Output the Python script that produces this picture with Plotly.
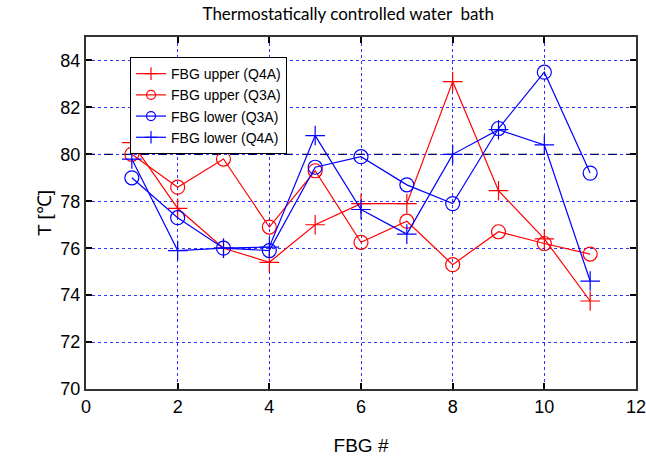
import plotly.graph_objects as go

fbg = [1, 2, 3, 4, 5, 6, 7, 8, 9, 10, 11]
upper_q4a = [80.5, 77.7, 76.0, 75.4, 77.0, 77.9, 77.9, 83.1, 78.45, 76.4, 73.75]
upper_q3a = [80.0, 78.6, 79.8, 76.9, 79.3, 76.25, 77.15, 75.3, 76.7, 76.2, 75.75]
lower_q3a = [79.0, 77.3, 76.0, 75.9, 79.45, 79.9, 78.7, 77.9, 81.1, 83.5, 79.2]
lower_q4a = [79.8, 75.9, 76.0, 76.05, 80.8, 77.65, 76.6, 80.0, 81.05, 80.4, 74.6]
ref_temp = 80.0

series = [
    ("FBG upper (Q4A)", upper_q4a, "red", "cross-thin-open"),
    ("FBG upper (Q3A)", upper_q3a, "red", "circle-open"),
    ("FBG lower (Q3A)", lower_q3a, "blue", "circle-open"),
    ("FBG lower (Q4A)", lower_q4a, "blue", "cross-thin-open"),
]

fig = go.Figure()
for name, vals, col, sym in series:
    fig.add_trace(go.Scatter(
        x=fbg, y=vals, name=name, mode="lines+markers", showlegend=False,
        line=dict(color=col, width=1.2),
        marker=dict(symbol=sym, size=14, color=col, line=dict(color=col, width=1.2)),
    ))
# legend entries with smaller symbols
for name, vals, col, sym in series:
    fig.add_trace(go.Scatter(
        x=[None], y=[None], name=name, mode="lines+markers",
        line=dict(color=col, width=1.2),
        marker=dict(symbol=sym, size=9, color=col, line=dict(color=col, width=1.2)),
    ))

fig.add_shape(type="line", xref="paper", x0=0, x1=1, yref="y", y0=ref_temp, y1=ref_temp,
              line=dict(color="black", width=1.2, dash="dash"), layer="between")

axis_common = dict(
    showline=True, linecolor="#333", linewidth=2, mirror="ticks",
    ticks="inside", ticklen=6, tickcolor="black", tickwidth=1.5,
    showgrid=True, gridcolor="rgba(0,0,255,0.8)", griddash="dot", gridwidth=0.8,
    zeroline=False, automargin=False, ticklabeloverflow="allow",
    tickfont=dict(family="Liberation Sans", size=18, color="black"),
)

fig.update_layout(
    width=646, height=460,
    margin=dict(l=86, r=10, t=37, b=71),
    paper_bgcolor="white", plot_bgcolor="white",
    title=dict(text="Thermostatically controlled water  bath", x=0.539, xanchor="center",
               y=0.97, yanchor="middle",
               font=dict(family="Lato", size=17, color="black")),
    xaxis=dict(range=[0, 12], dtick=2, **axis_common,
               title=dict(text="FBG #", font=dict(family="Liberation Sans", size=19, color="black"),
                          standoff=23)),
    yaxis=dict(range=[70, 85], tickvals=[70, 72, 74, 76, 78, 80, 82, 84], **axis_common,
               title=dict(text="T [℃]", font=dict(family="Liberation Sans", size=19, color="black"),
                          standoff=4)),
    legend=dict(x=0.08, y=0.943, xanchor="left", yanchor="top",
                bgcolor="white", bordercolor="black", borderwidth=1,
                font=dict(family="Liberation Sans", size=14, color="black"),
                tracegroupgap=0, itemsizing="trace"),
    showlegend=True,
)

fig.write_html("out.html")
